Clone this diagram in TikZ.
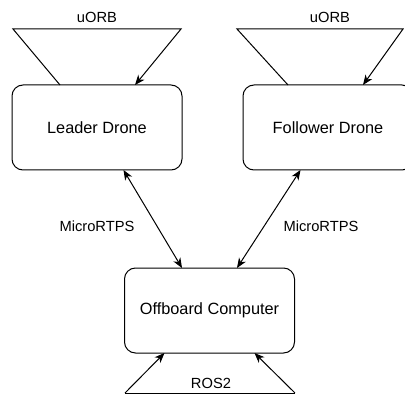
\documentclass[tikz,border=0pt]{standalone}
\usepackage{fontspec}
\setmainfont{Liberation Sans}
\usetikzlibrary{arrows.meta,calc}
\begin{document}
\begin{tikzpicture}[x=1pt,y=-1pt,
  line/.style={line width=1pt,draw=black},
  arr/.style={line,-{Stealth[length=10pt,width=8pt,inset=3pt]}},
  dbl/.style={line,{Stealth[length=10pt,width=8pt,inset=3pt]}-{Stealth[length=10pt,width=8pt,inset=3pt]}},
  box/.style={line,rectangle,rounded corners=11pt,minimum width=170pt,minimum height=85pt,
    inner sep=0pt,outer sep=0pt,font=\fontsize{16.3}{19}\selectfont,fill=white},
  lbl/.style={inner sep=0pt,font=\fontsize{14.7}{17}\selectfont}]
\clip (0,0) rectangle (405,396);
\fill[white] (0,0) rectangle (405,396);

% processes
\node[box] (leader)   at (97,127.5)  {Leader Drone};
\node[box] (follower) at (328,127.5) {Follower Drone};
\node[box] (off)      at (209.5,310.5) {Offboard Computer};

% uORB loop on the leader
\coordinate (lu1) at (13,29);
\coordinate (lu2) at (181,29);
\draw[arr] ($(leader.north west)+(48,0)$) -- (lu1) -- (lu2) -- ($(leader.north west)+(123,0)$);
\node[lbl] (lulbl) at (97,17) {uORB};

% uORB loop on the follower
\coordinate (fu1) at (237,29);
\coordinate (fu2) at (403,29);
\draw[arr] ($(follower.north west)+(45,0)$) -- (fu1) -- (fu2) -- ($(follower.north west)+(120,0)$);
\node[lbl] (fulbl) at (330,17) {uORB};

% MicroRTPS links
\draw[dbl] ($(leader.south west)+(111.5,0)$) -- ($(off.north west)+(57.5,0)$);
\draw[dbl] ($(follower.south west)+(57.5,0)$) -- ($(off.north west)+(112.5,0)$);
\node[lbl] (ml) at (97,226) {MicroRTPS};
\node[lbl] (mr) at (321,226) {MicroRTPS};

% ROS2 loop on the offboard computer
\coordinate (r1) at (125,393);
\coordinate (r2) at (295,393);
\draw[line] (r1) -- (r2);
\draw[arr] (r1) -- ($(off.south west)+(40,0)$);
\draw[arr] (r2) -- ($(off.south west)+(130,0)$);
\node[lbl] (rlbl) at (211,383) {ROS2};
\end{tikzpicture}
\end{document}
